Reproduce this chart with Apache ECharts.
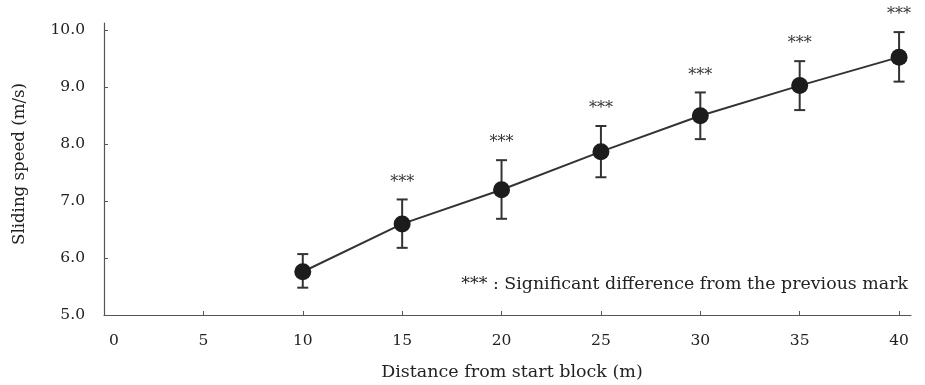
<!DOCTYPE html>
<html>
<head>
<meta charset="utf-8">
<script src="https://cdn.jsdelivr.net/npm/echarts@6/dist/echarts.min.js"></script>
<style>html,body{margin:0;padding:0;background:#fff}#chart{width:925px;height:385px}</style>
</head>
<body>
<div id="chart"></div>
<script>
// ---- data ----
const distances = [10, 15, 20, 25, 30, 35, 40];
const speedMean = [5.76, 6.60, 7.20, 7.87, 8.50, 9.03, 9.53];
const speedLow  = [5.48, 6.18, 6.69, 7.42, 8.09, 8.60, 9.10];
const speedHigh = [6.07, 7.03, 7.72, 8.32, 8.91, 9.46, 9.97];
const significance = ['', '***', '***', '***', '***', '***', '***'];
const xTicks = [0, 5, 10, 15, 20, 25, 30, 35, 40];
const yTicks = [5, 6, 7, 8, 9, 10];
const xTitle = 'Distance from start block (m)';
const yTitle = 'Sliding speed (m/s)';
const noteText = '*** : Significant difference from the previous mark';

const FONT = '"DejaVu Serif", "Liberation Serif", serif';
const TXT = '#222';
const AX = '#555';

const lineData = distances.map((d, i) => [d, speedMean[i]]);
const errData = distances.map((d, i) => [d, speedLow[i], speedHigh[i], i]);

const chart = echarts.init(document.getElementById('chart'), null, {renderer: 'canvas'});
chart.setOption({
  animation: false,
  backgroundColor: '#fff',
  grid: {left: 104, right: 14, top: 23, bottom: 70, containLabel: false},
  xAxis: {
    type: 'value', min: 0, max: 40.6,
    axisLine: {show: true, lineStyle: {color: AX, width: 1.2}},
    axisTick: {show: true, inside: true, length: 4, lineStyle: {color: AX}, customValues: xTicks},
    axisLabel: {
      customValues: xTicks, margin: 18,
      fontFamily: FONT, fontSize: 15.5, color: TXT,
      formatter: v => v === 0 ? '{z|0}' : String(v),
      rich: {z: {fontFamily: FONT, fontSize: 15.5, color: TXT, padding: [0, 0, 0, 20]}}
    },
    splitLine: {show: false}
  },
  yAxis: {
    type: 'value', min: 5, max: 10.13,
    axisLine: {show: true, lineStyle: {color: AX, width: 1.2}},
    axisTick: {show: true, inside: true, length: 4, lineStyle: {color: AX}, customValues: yTicks},
    axisLabel: {
      customValues: yTicks, margin: 19,
      fontFamily: FONT, fontSize: 15.5, color: TXT,
      formatter: v => Number(v).toFixed(1)
    },
    splitLine: {show: false}
  },
  graphic: [
    {type: 'text', x: 512, y: 372,
      style: {text: xTitle, fontFamily: FONT, fontSize: 17.5, fill: TXT, align: 'center', verticalAlign: 'middle'}},
    {type: 'text', x: 20, y: 164, rotation: Math.PI / 2,
      style: {text: yTitle, fontFamily: FONT, fontSize: 16.6, fill: TXT, align: 'center', verticalAlign: 'middle'}},
    {type: 'text', x: 908, y: 284,
      style: {text: noteText, fontFamily: FONT, fontSize: 17.4, fill: TXT, align: 'right', verticalAlign: 'middle'}}
  ],
  series: [
    {
      type: 'line', data: lineData, symbol: 'circle', symbolSize: 17,
      lineStyle: {color: '#333', width: 2},
      itemStyle: {color: '#1c1c1c'}, z: 3
    },
    {
      type: 'custom', data: errData, z: 2,
      renderItem: function (params, api) {
        const x = api.value(0);
        const lo = api.coord([x, api.value(1)]);
        const hi = api.coord([x, api.value(2)]);
        const idx = api.value(3);
        const cap = 5.5;
        const st = {stroke: '#333', lineWidth: 2};
        const children = [
          {type: 'line', shape: {x1: lo[0], y1: lo[1], x2: hi[0], y2: hi[1]}, style: st},
          {type: 'line', shape: {x1: hi[0] - cap, y1: hi[1], x2: hi[0] + cap, y2: hi[1]}, style: st},
          {type: 'line', shape: {x1: lo[0] - cap, y1: lo[1], x2: lo[0] + cap, y2: lo[1]}, style: st}
        ];
        const s = significance[idx];
        if (s) {
          children.push({type: 'text', x: hi[0], y: hi[1] - 17,
            style: {text: s, fontFamily: FONT, fontSize: 16, fill: '#333', align: 'center', verticalAlign: 'middle'}});
        }
        return {type: 'group', children: children};
      }
    }
  ]
});
</script>
</body>
</html>
